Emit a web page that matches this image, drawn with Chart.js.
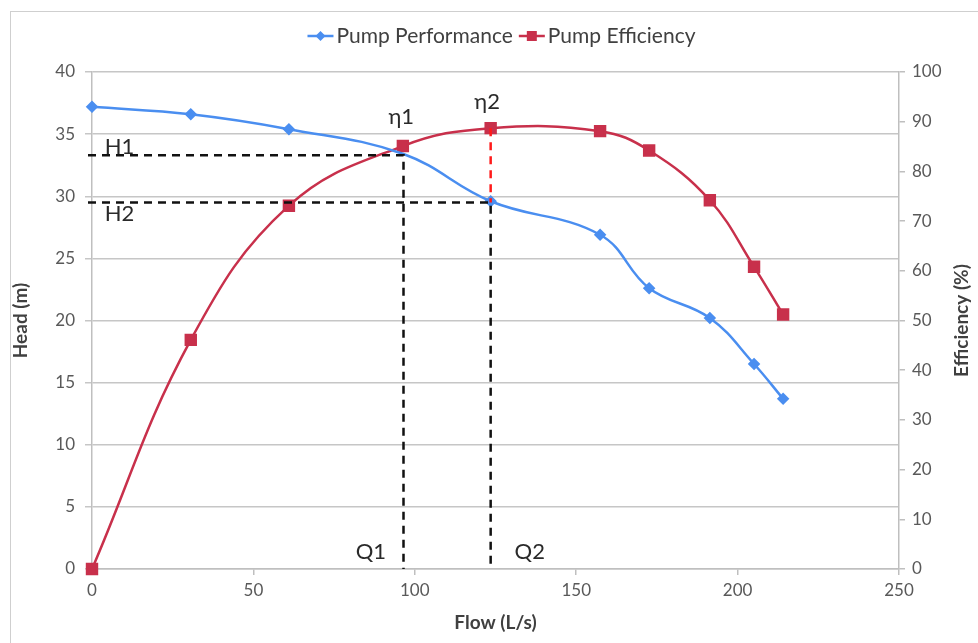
<!DOCTYPE html>
<html>
<head>
<meta charset="utf-8">
<title>Pump Performance</title>
<script src="https://cdn.jsdelivr.net/npm/chart.js@4.4.1/dist/chart.umd.min.js"></script>
<style>
  html, body { margin: 0; padding: 0; background: #fff; }
  #wrap { position: relative; width: 978px; height: 643px; overflow: hidden; }
  #frame { position: absolute; left: 10px; top: 11px; width: 990px; height: 700px;
           border-top: 1px solid #cfcfcf; border-left: 1px solid #cfcfcf; }
  canvas { position: absolute; left: 0; top: 0; }
</style>
</head>
<body>
<div id="wrap">
  <div id="frame"></div>
  <canvas id="chart" width="978" height="643"></canvas>
</div>
<script>
// Curva de la bomba: caudal (L/s) y altura (m)
const flowHead = [0, 30.6, 61, 96.5, 123.5, 157.4, 172.6, 191.4, 205.1, 214.1];
const head = [37.2, 36.6, 35.4, 33.4, 29.6, 26.9, 22.6, 20.2, 16.5, 13.7];

// Curva de eficiencia: caudal (L/s) y eficiencia (%)
const flowEff = [0, 30.6, 61, 96.3, 123.5, 157.4, 172.6, 191.4, 205.1, 214.1];
const efficiency = [0, 46.1, 73.1, 85.1, 88.7, 88.1, 84.2, 74.2, 60.8, 51.2];

// Puntos de operación (líneas guía)
const opFlow = [96.5, 123.5];      // Q1, Q2
const opHead = [33.3, 29.5];       // H1, H2
const opEff = [85.1, 88.7];        // η1, η2

// Etiquetas del gráfico: [texto, caudal, altura]
const labels = [
    ['H1', 8.5, 34.0],
    ['H2', 8.5, 28.6],
    ['η1', 95.8, 36.4],
    ['η2', 122.4, 37.6],
    ['Q1', 86.4, 1.4],
    ['Q2', 135.6, 1.4]
];

// Ticks de los ejes
const flowTicks = [0, 50, 100, 150, 200, 250];
const headTicks = [0, 5, 10, 15, 20, 25, 30, 35, 40];
const effTicks = [0, 10, 20, 30, 40, 50, 60, 70, 80, 90, 100];

const BLUE = '#4a8ef0';
const RED = '#c8304b';
const FONT = "Lato, 'Noto Sans', sans-serif";
const TICK_COLOR = '#595959';
const TITLE_COLOR = '#404040';
const AXIS_COLOR = '#bfbfbf';

function toPoints(xs, ys) {
    return xs.map((x, i) => ({ x: x, y: ys[i] }));
}

// Leyenda, título derecho, líneas guía y etiquetas
const overlayPlugin = {
    id: 'overlay',
    afterDraw(chart) {
        const ctx = chart.ctx;
        const x = chart.scales.x;
        const y = chart.scales.y;
        const y1 = chart.scales.y1;
        const area = chart.chartArea;

        ctx.save();

        // Líneas punteadas negras: H1 -> Q1, H2 -> Q2
        ctx.setLineDash([8, 6]);
        ctx.lineWidth = 2.5;
        ctx.strokeStyle = '#111';
        for (let i = 0; i < opFlow.length; i++) {
            const px = x.getPixelForValue(opFlow[i]);
            const py = y.getPixelForValue(opHead[i]);
            ctx.beginPath();
            ctx.moveTo(area.left - 4, py);
            ctx.lineTo(px, py);
            ctx.lineTo(px, y.getPixelForValue(0));
            ctx.stroke();
        }

        // Línea punteada roja desde η2 hasta la curva de la bomba
        ctx.strokeStyle = '#ff1a1a';
        const qx = x.getPixelForValue(opFlow[1]);
        ctx.beginPath();
        ctx.moveTo(qx, y1.getPixelForValue(opEff[1]));
        ctx.lineTo(qx, y.getPixelForValue(opHead[1]));
        ctx.stroke();
        ctx.setLineDash([]);

        // Etiquetas H, η, Q
        ctx.fillStyle = '#2a2a2a';
        ctx.font = '22px ' + FONT;
        ctx.textAlign = 'center';
        ctx.textBaseline = 'middle';
        labels.forEach(([text, fx, hy]) => {
            ctx.fillText(text, x.getPixelForValue(fx), y.getPixelForValue(hy));
        });

        // Título del eje derecho (leído de abajo hacia arriba)
        ctx.save();
        ctx.translate(962, (area.top + area.bottom) / 2);
        ctx.rotate(-Math.PI / 2);
        ctx.font = 'bold 19px ' + FONT;
        ctx.fillStyle = TITLE_COLOR;
        ctx.fillText('Efficiency (%)', 0, 0);
        ctx.restore();

        // Leyenda
        const items = [
            { text: 'Pump Performance', color: BLUE, style: 'diamond' },
            { text: 'Pump Efficiency', color: RED, style: 'square' }
        ];
        ctx.font = '21px ' + FONT;
        const sample = 26, gap = 3, between = 6;
        let total = 0;
        items.forEach((it, i) => {
            it.w = ctx.measureText(it.text).width;
            total += sample + gap + it.w + (i ? between : 0);
        });
        let lx = 501.5 - total / 2;
        const ly = 36;
        ctx.textAlign = 'left';
        items.forEach((it, i) => {
            if (i) lx += between;
            ctx.strokeStyle = it.color;
            ctx.fillStyle = it.color;
            ctx.lineWidth = 2.5;
            ctx.beginPath();
            ctx.moveTo(lx, ly);
            ctx.lineTo(lx + sample, ly);
            ctx.stroke();
            const cx = lx + sample / 2;
            ctx.beginPath();
            if (it.style === 'diamond') {
                ctx.moveTo(cx, ly - 5);
                ctx.lineTo(cx + 5, ly);
                ctx.lineTo(cx, ly + 5);
                ctx.lineTo(cx - 5, ly);
            } else {
                ctx.rect(cx - 5, ly - 5, 10, 10);
            }
            ctx.fill();
            ctx.fillStyle = TITLE_COLOR;
            ctx.fillText(it.text, lx + sample + gap, ly);
            lx += sample + gap + it.w;
        });

        ctx.restore();
    }
};

const tickFont = { family: FONT, size: 17 };
const titleFont = { family: FONT, size: 19, weight: 'bold' };

const ctx = document.getElementById('chart').getContext('2d');
const chart = new Chart(ctx, {
    type: 'line',
    data: {
        datasets: [
            {
                label: 'Pump Performance',
                data: toPoints(flowHead, head),
                yAxisID: 'y',
                borderColor: BLUE,
                backgroundColor: BLUE,
                borderWidth: 2.5,
                pointStyle: 'rectRot',
                // el punto en Q1 va sin marcador
                pointRadius: (c) => (c.raw && c.raw.x === opFlow[0] ? 0 : 4.5),
                pointHoverRadius: 4.5,
                tension: 0.4,
                clip: false
            },
            {
                label: 'Pump Efficiency',
                data: toPoints(flowEff, efficiency),
                yAxisID: 'y1',
                borderColor: RED,
                backgroundColor: RED,
                borderWidth: 2.5,
                pointStyle: 'rect',
                pointRadius: 7,
                pointHoverRadius: 7,
                tension: 0.4,
                clip: false
            }
        ]
    },
    options: {
        responsive: false,
        animation: false,
        layout: { padding: { top: 72, left: 0, right: 0, bottom: 0 } },
        plugins: {
            legend: { display: false },
            tooltip: { enabled: false }
        },
        scales: {
            x: {
                type: 'linear',
                min: 0,
                max: 250,
                afterBuildTicks: (s) => { s.ticks = flowTicks.map(v => ({ value: v })); },
                afterFit: (s) => { s.height = 74; },
                ticks: { color: TICK_COLOR, font: tickFont, padding: 5 },
                grid: { drawOnChartArea: false, tickLength: 6, color: AXIS_COLOR, lineWidth: 1.5 },
                border: { color: AXIS_COLOR, width: 1.5 },
                title: {
                    display: true,
                    text: 'Flow (L/s)',
                    color: TITLE_COLOR,
                    font: titleFont,
                    padding: { top: 0, bottom: 9 }
                }
            },
            y: {
                position: 'left',
                min: 0,
                max: 40,
                afterBuildTicks: (s) => { s.ticks = headTicks.map(v => ({ value: v })); },
                afterFit: (s) => { s.width = 92; },
                ticks: { color: TICK_COLOR, font: tickFont, padding: 10 },
                grid: { color: '#c6c6c6', lineWidth: 1.5, tickLength: 7 },
                border: { color: AXIS_COLOR, width: 1.5 },
                title: {
                    display: true,
                    text: 'Head (m)',
                    color: TITLE_COLOR,
                    font: titleFont,
                    padding: { top: 9, bottom: 0 }
                }
            },
            y1: {
                position: 'right',
                min: 0,
                max: 100,
                afterBuildTicks: (s) => { s.ticks = effTicks.map(v => ({ value: v })); },
                afterFit: (s) => { s.width = 79; },
                ticks: { color: TICK_COLOR, font: tickFont, padding: 7 },
                grid: { drawOnChartArea: false, tickLength: 6, color: AXIS_COLOR, lineWidth: 1.5 },
                border: { color: AXIS_COLOR, width: 1.5 }
            }
        }
    },
    plugins: [overlayPlugin]
});
</script>
</body>
</html>
